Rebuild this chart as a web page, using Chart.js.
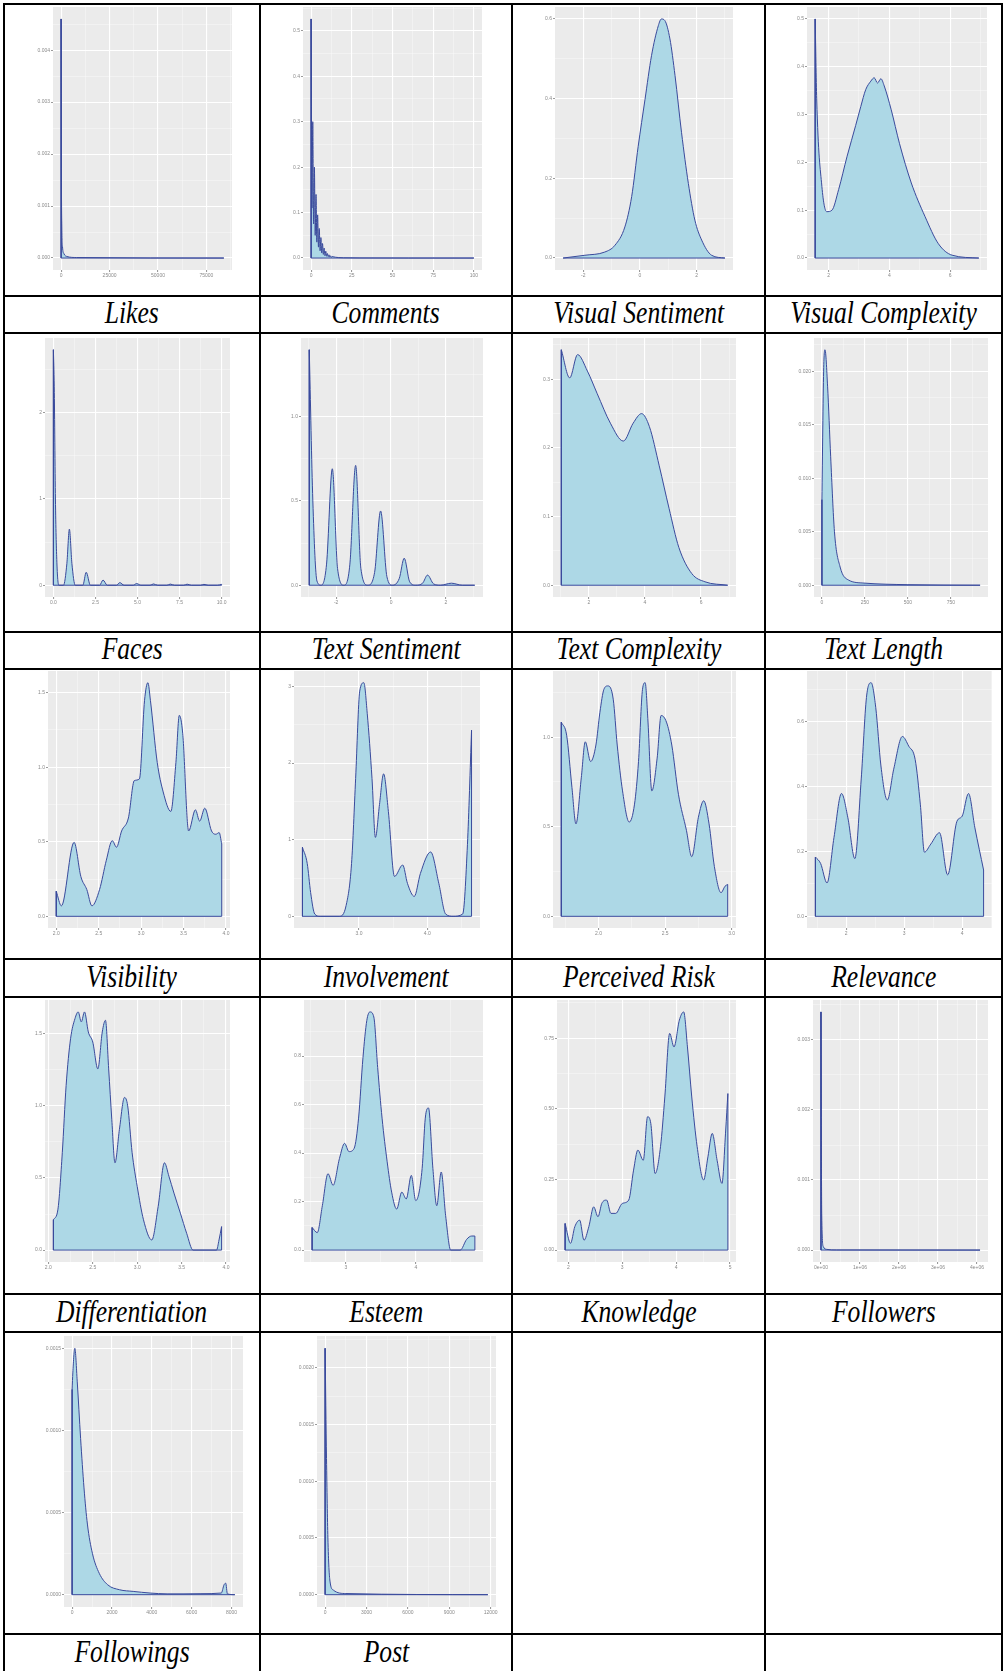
<!DOCTYPE html>
<html>
<head>
<meta charset="utf-8">
<script src="https://cdn.jsdelivr.net/npm/chart.js@4.4.0/dist/chart.umd.min.js"></script>
<style>
  body { margin: 0; background: #fff; width: 1003px; height: 1671px; overflow: hidden; position: relative; }
  .cell { position: absolute; box-sizing: border-box; border: 1px solid #000; }
  .frame { position: absolute; box-sizing: border-box; border: 1px solid #000; left: 3px; top: 3px; width: 1000px; height: 1680px; }
  .lab { display: flex; align-items: center; justify-content: center; font: italic 32px 'Liberation Serif', 'Times New Roman', serif; line-height: 1; padding-bottom: 5px; }
  .lab span { display: inline-block; transform: scaleX(0.8); white-space: nowrap; }
  .plot { position: absolute; }
  .plot canvas { filter: blur(0.6px); }
</style>
</head>
<body>
<div class="frame"></div>
<script>
// density curves, x = variable value, y = density
const likesX = [0, 150, 350, 700, 1500, 3000, 8000, 84000];
const likesY = [0.0046, 0.0016, 0.0006, 0.00022, 0.00008, 0.00003, 0.00001, 0];
const likesXTicks = ['0', '25000', '50000', '75000'];
const likesYTicks = ['0.000', '0.001', '0.002', '0.003', '0.004'];

// comment counts are integers, so the curve rings at every whole number
const commentsX = [0, 0.5, 1, 1.5, 2, 2.5, 3, 3.5, 4, 4.5, 5, 5.5, 6, 6.5, 7, 7.5, 8, 8.5, 9, 9.5, 10, 10.5, 11, 11.5, 12, 12.5, 13, 14, 15, 17, 20, 30, 60, 100];
const commentsY = [0.526, 0.11, 0.30, 0.075, 0.20, 0.05, 0.14, 0.035, 0.095, 0.024, 0.065, 0.016, 0.045, 0.011, 0.032, 0.008, 0.022, 0.005, 0.015, 0.004, 0.01, 0.003, 0.007, 0.002, 0.005, 0.0015, 0.0035, 0.0025, 0.0018, 0.001, 0.0006, 0.0003, 0.0001, 0];
const commentsXTicks = ['0', '25', '50', '75', '100'];
const commentsYTicks = ['0.0', '0.1', '0.2', '0.3', '0.4', '0.5'];

const visSentX = [-2.71, -1.94, -1.24, -0.88, -0.53, -0.29, -0.06, 0.18, 0.41, 0.65, 0.76, 0.88, 1.06, 1.24, 1.47, 1.71, 1.94, 2.18, 2.53, 3.0];
const visSentY = [0, 0.007, 0.015, 0.032, 0.078, 0.154, 0.28, 0.397, 0.507, 0.582, 0.599, 0.595, 0.549, 0.457, 0.314, 0.187, 0.095, 0.045, 0.007, 0];
const visSentXTicks = ['-2', '0', '2'];
const visSentYTicks = ['0.0', '0.2', '0.4', '0.6'];

const visCompX = [1.56, 1.61, 1.78, 1.94, 2.11, 2.33, 2.61, 2.89, 3.06, 3.22, 3.39, 3.5, 3.61, 3.72, 3.83, 4.06, 4.33, 4.72, 5.17, 5.61, 6.06, 6.94];
const visCompY = [0.50, 0.333, 0.15, 0.097, 0.10, 0.143, 0.213, 0.277, 0.317, 0.352, 0.37, 0.377, 0.366, 0.375, 0.36, 0.31, 0.24, 0.157, 0.087, 0.03, 0.006, 0];
const visCompXTicks = ['2', '4', '6'];
const visCompYTicks = ['0.0', '0.1', '0.2', '0.3', '0.4', '0.5'];

const facesX = [0, 0.05, 0.12, 0.2, 0.32, 0.6, 0.8, 0.95, 1.1, 1.3, 1.75, 1.95, 2.2, 2.75, 2.95, 3.2, 3.75, 3.95, 4.2, 4.75, 4.95, 5.2, 5.75, 5.95, 6.2, 6.75, 6.95, 7.2, 7.75, 7.95, 8.2, 8.75, 8.95, 9.2, 9.75, 10];
const facesY = [2.73, 2.3, 1.0, 0.3, 0, 0, 0.25, 0.65, 0.25, 0, 0, 0.15, 0, 0, 0.06, 0, 0, 0.03, 0, 0, 0.02, 0, 0, 0.015, 0, 0, 0.013, 0, 0, 0.012, 0, 0, 0.01, 0, 0, 0.01];
const facesXTicks = ['0.0', '2.5', '5.0', '7.5', '10.0'];
const facesYTicks = ['0', '1', '2'];

const textSentX = [-2.98, -2.85, -2.7, -2.55, -2.35, -2.14, -1.95, -1.72, -1.5, -1.29, -1.1, -0.85, -0.6, -0.38, -0.15, 0.05, 0.3, 0.48, 0.68, 0.9, 1.15, 1.33, 1.55, 1.8, 2.2, 2.6, 3.05];
const textSentY = [1.395, 0.5, 0.025, 0, 0.125, 0.69, 0.1, 0, 0.125, 0.71, 0.1, 0, 0.075, 0.44, 0.05, 0, 0.04, 0.16, 0.02, 0, 0.012, 0.06, 0.008, 0, 0.012, 0, 0];
const textSentXTicks = ['-2', '0', '2'];
const textSentYTicks = ['0.0', '0.5', '1.0'];

const textCompX = [1.02, 1.32, 1.6, 1.95, 2.3, 2.77, 3.23, 3.58, 3.88, 4.16, 4.51, 4.86, 5.21, 5.67, 6.14, 6.95];
const textCompY = [0.343, 0.302, 0.336, 0.312, 0.279, 0.236, 0.21, 0.236, 0.25, 0.231, 0.174, 0.112, 0.055, 0.017, 0.005, 0];
const textCompXTicks = ['2', '4', '6'];
const textCompYTicks = ['0.0', '0.1', '0.2', '0.3'];

const textLenX = [0, 10, 18, 33, 51, 73, 106, 153, 245, 500, 920];
const textLenY = [0.008, 0.02, 0.022, 0.0186, 0.012, 0.005, 0.0017, 0.0005, 0.0002, 0.00005, 0];
const textLenXTicks = ['0', '250', '500', '750'];
const textLenYTicks = ['0.000', '0.005', '0.010', '0.015', '0.020'];

const visibilityX = [2.0, 2.06, 2.21, 2.29, 2.36, 2.42, 2.51, 2.59, 2.66, 2.71, 2.77, 2.85, 2.92, 2.98, 3.04, 3.08, 3.11, 3.19, 3.26, 3.35, 3.41, 3.45, 3.49, 3.56, 3.64, 3.69, 3.75, 3.83, 3.88, 3.92, 3.95];
const visibilityY = [0.168, 0.07, 0.496, 0.266, 0.179, 0.07, 0.179, 0.376, 0.507, 0.463, 0.572, 0.659, 0.91, 0.921, 1.445, 1.566, 1.445, 1.031, 0.834, 0.703, 1.031, 1.347, 1.227, 0.572, 0.714, 0.638, 0.725, 0.572, 0.55, 0.561, 0.485];
const visibilityXTicks = ['2.0', '2.5', '3.0', '3.5', '4.0'];
const visibilityYTicks = ['0.0', '0.5', '1.0', '1.5'];

const involvementX = [2.17, 2.24, 2.29, 2.35, 2.43, 2.71, 2.81, 2.89, 2.95, 3.01, 3.07, 3.12, 3.19, 3.24, 3.3, 3.36, 3.43, 3.52, 3.64, 3.71, 3.81, 3.9, 4.05, 4.17, 4.27, 4.38, 4.52, 4.59, 4.65];
const involvementY = [0.90, 0.69, 0.31, 0.03, 0, 0, 0.14, 0.69, 1.80, 2.94, 3.05, 2.65, 1.80, 1.03, 1.46, 1.86, 1.37, 0.52, 0.67, 0.43, 0.26, 0.56, 0.84, 0.43, 0.03, 0, 0.03, 0.94, 2.43];
const involvementXTicks = ['3.0', '4.0'];
const involvementYTicks = ['0', '1', '2', '3'];

const riskX = [1.72, 1.76, 1.8, 1.83, 1.87, 1.9, 1.94, 1.98, 2.01, 2.04, 2.07, 2.11, 2.14, 2.18, 2.23, 2.27, 2.3, 2.33, 2.35, 2.37, 2.4, 2.44, 2.47, 2.51, 2.55, 2.6, 2.66, 2.7, 2.75, 2.79, 2.83, 2.87, 2.92, 2.95, 2.97];
const riskY = [1.084, 1.011, 0.718, 0.516, 0.773, 0.974, 0.864, 0.956, 1.139, 1.267, 1.286, 1.212, 0.956, 0.7, 0.526, 0.626, 0.864, 1.267, 1.304, 1.103, 0.7, 0.883, 1.121, 1.084, 0.956, 0.681, 0.48, 0.333, 0.553, 0.645, 0.516, 0.278, 0.132, 0.168, 0.178];
const riskXTicks = ['2.0', '2.5', '3.0'];
const riskYTicks = ['0.0', '0.5', '1.0'];

const relevanceX = [1.47, 1.56, 1.67, 1.79, 1.92, 2.03, 2.15, 2.26, 2.35, 2.43, 2.51, 2.6, 2.71, 2.82, 2.97, 3.08, 3.19, 3.28, 3.35, 3.46, 3.61, 3.75, 3.91, 4.0, 4.11, 4.22, 4.37];
const relevanceY = [0.183, 0.163, 0.103, 0.243, 0.379, 0.304, 0.178, 0.424, 0.675, 0.721, 0.645, 0.464, 0.359, 0.454, 0.555, 0.525, 0.484, 0.344, 0.198, 0.223, 0.258, 0.128, 0.293, 0.309, 0.379, 0.273, 0.143];
const relevanceXTicks = ['2', '3', '4'];
const relevanceYTicks = ['0.0', '0.2', '0.4', '0.6'];

const diffX = [2.057, 2.107, 2.157, 2.2, 2.25, 2.3, 2.336, 2.371, 2.407, 2.45, 2.5, 2.557, 2.607, 2.643, 2.679, 2.714, 2.75, 2.8, 2.857, 2.893, 2.943, 3.0, 3.071, 3.164, 3.236, 3.307, 3.357, 3.414, 3.486, 3.557, 3.629, 3.893, 3.921, 3.95];
const diffY = [0.21, 0.279, 0.675, 1.14, 1.465, 1.605, 1.651, 1.582, 1.651, 1.512, 1.442, 1.256, 1.512, 1.593, 1.256, 0.907, 0.605, 0.837, 1.058, 1.0, 0.675, 0.442, 0.21, 0.07, 0.302, 0.605, 0.512, 0.395, 0.256, 0.116, 0, 0, 0.07, 0.163];
const diffXTicks = ['2.0', '2.5', '3.0', '3.5', '4.0'];
const diffYTicks = ['0.0', '0.5', '1.0', '1.5'];

const esteemX = [2.518, 2.591, 2.664, 2.745, 2.818, 2.909, 2.982, 3.045, 3.118, 3.182, 3.245, 3.3, 3.345, 3.4, 3.455, 3.518, 3.591, 3.655, 3.727, 3.8, 3.864, 3.936, 4.0, 4.091, 4.136, 4.182, 4.245, 4.3, 4.364, 4.427, 4.5, 4.636, 4.727, 4.8, 4.845];
const esteemY = [0.093, 0.072, 0.183, 0.315, 0.267, 0.378, 0.44, 0.406, 0.419, 0.544, 0.794, 0.947, 0.982, 0.961, 0.753, 0.544, 0.364, 0.239, 0.169, 0.239, 0.211, 0.308, 0.204, 0.336, 0.544, 0.586, 0.336, 0.183, 0.322, 0.142, 0, 0, 0.044, 0.058, 0.058];
const esteemXTicks = ['3', '4'];
const esteemYTicks = ['0.0', '0.2', '0.4', '0.6', '0.8'];

const knowledgeX = [1.94, 2.04, 2.12, 2.21, 2.29, 2.38, 2.47, 2.55, 2.62, 2.71, 2.79, 2.88, 3.0, 3.12, 3.21, 3.29, 3.39, 3.47, 3.53, 3.61, 3.71, 3.79, 3.88, 3.96, 4.06, 4.14, 4.21, 4.29, 4.39, 4.51, 4.59, 4.67, 4.76, 4.85, 4.92, 4.96];
const knowledgeY = [0.094, 0.024, 0.083, 0.106, 0.035, 0.083, 0.153, 0.118, 0.165, 0.177, 0.13, 0.13, 0.165, 0.177, 0.283, 0.354, 0.318, 0.472, 0.448, 0.271, 0.366, 0.542, 0.767, 0.719, 0.814, 0.843, 0.719, 0.542, 0.366, 0.248, 0.33, 0.413, 0.318, 0.236, 0.425, 0.554];
const knowledgeXTicks = ['2', '3', '4', '5'];
const knowledgeYTicks = ['0.00', '0.25', '0.50', '0.75'];

const followersX = [0, 20000, 60000, 150000, 400000, 4080000];
const followersY = [0.0034, 0.0005, 0.00005, 0.00001, 0.000002, 0];
const followersXTicks = ['0e+00', '1e+06', '2e+06', '3e+06', '4e+06'];
const followersYTicks = ['0.000', '0.001', '0.002', '0.003'];

const followingsX = [0, 34, 136, 255, 426, 596, 766, 1021, 1362, 1787, 2383, 3064, 3915, 4766, 5617, 6468, 7489, 7626, 7711, 7796, 8170];
const followingsY = [0.00125, 0.00135, 0.0015, 0.0013, 0.00095, 0.00065, 0.00043, 0.00025, 0.00013, 0.00006, 0.00003, 0.00002, 0.00001, 0.000005, 0.000005, 0.000006, 0.00001, 0.00006, 0.00007, 0.000005, 0];
const followingsXTicks = ['0', '2000', '4000', '6000', '8000'];
const followingsYTicks = ['0.0000', '0.0005', '0.0010', '0.0015'];

const postX = [0, 100, 200, 350, 600, 1500, 11800];
const postY = [0.00217, 0.0012, 0.0005, 0.00012, 0.00004, 0.00001, 0];
const postXTicks = ['0', '3000', '6000', '9000', '12000'];
const postYTicks = ['0.0000', '0.0005', '0.0010', '0.0015', '0.0020'];

const panels = [
  ['Likes', likesX, likesY, likesXTicks, likesYTicks],
  ['Comments', commentsX, commentsY, commentsXTicks, commentsYTicks],
  ['Visual Sentiment', visSentX, visSentY, visSentXTicks, visSentYTicks],
  ['Visual Complexity', visCompX, visCompY, visCompXTicks, visCompYTicks],
  ['Faces', facesX, facesY, facesXTicks, facesYTicks],
  ['Text Sentiment', textSentX, textSentY, textSentXTicks, textSentYTicks],
  ['Text Complexity', textCompX, textCompY, textCompXTicks, textCompYTicks],
  ['Text Length', textLenX, textLenY, textLenXTicks, textLenYTicks],
  ['Visibility', visibilityX, visibilityY, visibilityXTicks, visibilityYTicks],
  ['Involvement', involvementX, involvementY, involvementXTicks, involvementYTicks],
  ['Perceived Risk', riskX, riskY, riskXTicks, riskYTicks],
  ['Relevance', relevanceX, relevanceY, relevanceXTicks, relevanceYTicks],
  ['Differentiation', diffX, diffY, diffXTicks, diffYTicks],
  ['Esteem', esteemX, esteemY, esteemXTicks, esteemYTicks],
  ['Knowledge', knowledgeX, knowledgeY, knowledgeXTicks, knowledgeYTicks],
  ['Followers', followersX, followersY, followersXTicks, followersYTicks],
  ['Followings', followingsX, followingsY, followingsXTicks, followingsYTicks],
  ['Post', postX, postY, postXTicks, postYTicks]
];

// table grid
const colEdges = [4, 260, 512, 765, 1002];
const rowEdges = [4, 296, 333, 632, 669, 959, 997, 1294, 1332, 1634, 1672];
// grey panel rectangles [left, top, right, bottom]
const panelBoxes = [
  [53, 7, 232, 270], [303, 7, 482, 270], [555, 7, 733, 270], [807, 7, 987, 270],
  [45, 338, 230, 597], [301, 338, 483, 597], [553, 338, 736, 597], [814, 338, 988, 597],
  [48, 671, 230, 928], [294, 671, 480, 928], [553, 671, 736, 928], [807, 671, 992, 928],
  [45, 1000, 230, 1262], [304, 1000, 483, 1262], [557, 1000, 736, 1262], [813, 1000, 988, 1262],
  [64, 1336, 243, 1607], [317, 1336, 496, 1607]
];

for (let r = 0; r < 5; r++) {
  for (let c = 0; c < 4; c++) {
    const i = r * 4 + c;
    for (let k = 0; k < 2; k++) {
      const d = document.createElement('div');
      d.className = k ? 'cell lab' : 'cell';
      d.style.left = colEdges[c] + 'px';
      d.style.top = rowEdges[2 * r + k] + 'px';
      d.style.width = (colEdges[c + 1] - colEdges[c]) + 'px';
      d.style.height = (rowEdges[2 * r + k + 1] - rowEdges[2 * r + k]) + 'px';
      if (k && panels[i]) {
        const s = document.createElement('span');
        s.textContent = panels[i][0];
        d.appendChild(s);
      }
      document.body.appendChild(d);
    }
  }
}

// grey panel background like ggplot
const panelBg = {
  id: 'panelBg',
  beforeDraw(chart) {
    const { ctx, chartArea: a } = chart;
    ctx.save();
    ctx.fillStyle = '#ebebeb';
    ctx.fillRect(a.left, a.top, a.right - a.left, a.bottom - a.top);
    ctx.restore();
  }
};

// major ticks from the labels, minor ticks half way between
function makeTicks(vals, min, max) {
  const out = vals.map(v => ({ value: v }));
  const step = vals.length > 1 ? vals[1] - vals[0] : (max - min);
  const all = [vals[0] - step].concat(vals, [vals[vals.length - 1] + step]);
  for (let k = 0; k < all.length - 1; k++) {
    const m = (all[k] + all[k + 1]) / 2;
    if (m > min && m < max) out.push({ value: m, minor: true });
  }
  return out.filter(t => t.value >= min && t.value <= max).sort((a, b) => a.value - b.value);
}

const grid = {
  color: ctx => (ctx.tick && ctx.tick.minor) ? 'rgba(255,255,255,0.6)' : '#ffffff',
  lineWidth: ctx => (ctx.tick && ctx.tick.minor) ? 0.6 : 1.1,
  tickColor: ctx => (ctx.tick && ctx.tick.minor) ? 'rgba(0,0,0,0)' : '#9a9a9a',
  tickLength: 2,
  drawTicks: true
};

function tickOpts(labels) {
  return {
    autoSkip: false,
    maxRotation: 0,
    padding: 1,
    color: '#8a8a8a',
    font: { size: 5, family: 'Liberation Sans' },
    callback: (v, i, ticks) => {
      if (ticks[i].minor) return '';
      const l = labels.find(s => Number(s) === v);
      return l === undefined ? '' : l;
    }
  };
}

panels.forEach((p, i) => {
  const [name, xs, ys, xt, yt] = p;
  const c = i % 4;
  const [gx0, gy0, gx1, gy1] = panelBoxes[i];
  const left = colEdges[c] + 2;
  const top = gy0 - 4;
  const wrap = document.createElement('div');
  wrap.className = 'plot';
  wrap.style.left = left + 'px';
  wrap.style.top = top + 'px';
  wrap.style.width = (gx1 + 8 - left) + 'px';
  wrap.style.height = (gy1 + 16 - top) + 'px';
  const cv = document.createElement('canvas');
  wrap.appendChild(cv);
  document.body.appendChild(wrap);

  const pts = xs.map((x, k) => ({ x: x, y: ys[k] }));
  const x0 = xs[0], x1 = xs[xs.length - 1];
  const edge = [{ x: x0, y: ys[0] }, { x: x0, y: 0 }, { x: x1, y: 0 }, { x: x1, y: ys[ys.length - 1] }];
  const ymax = Math.max(...ys);
  const xr = x1 - x0;

  new Chart(cv, {
    type: 'line',
    data: {
      datasets: [
        { data: edge, borderColor: '#3a4a9c', borderWidth: 1, pointRadius: 0, fill: false, tension: 0 },
        { data: pts, borderColor: '#3a4a9c', backgroundColor: '#add8e6', borderWidth: 1, pointRadius: 0, fill: 'origin', cubicInterpolationMode: 'monotone' }
      ]
    },
    options: {
      responsive: true,
      maintainAspectRatio: false,
      animation: false,
      events: [],
      layout: { padding: { top: 4, right: 8, left: 0, bottom: 0 } },
      plugins: { legend: { display: false }, tooltip: { enabled: false } },
      scales: {
        x: {
          type: 'linear',
          min: x0 - 0.05 * xr,
          max: x1 + 0.05 * xr,
          afterBuildTicks: s => { s.ticks = makeTicks(xt.map(Number), s.min, s.max); },
          afterFit: s => { s.height = 16; s.paddingLeft = 0; s.paddingRight = 0; },
          ticks: tickOpts(xt),
          grid: grid,
          border: { display: false }
        },
        y: {
          type: 'linear',
          min: -0.05 * ymax,
          max: 1.05 * ymax,
          afterBuildTicks: s => { s.ticks = makeTicks(yt.map(Number), s.min, s.max); },
          afterFit: s => { s.width = gx0 - left; s.paddingTop = 0; s.paddingBottom = 0; },
          ticks: tickOpts(yt),
          grid: grid,
          border: { display: false }
        }
      }
    },
    plugins: [panelBg]
  });
});
</script>
</body>
</html>
